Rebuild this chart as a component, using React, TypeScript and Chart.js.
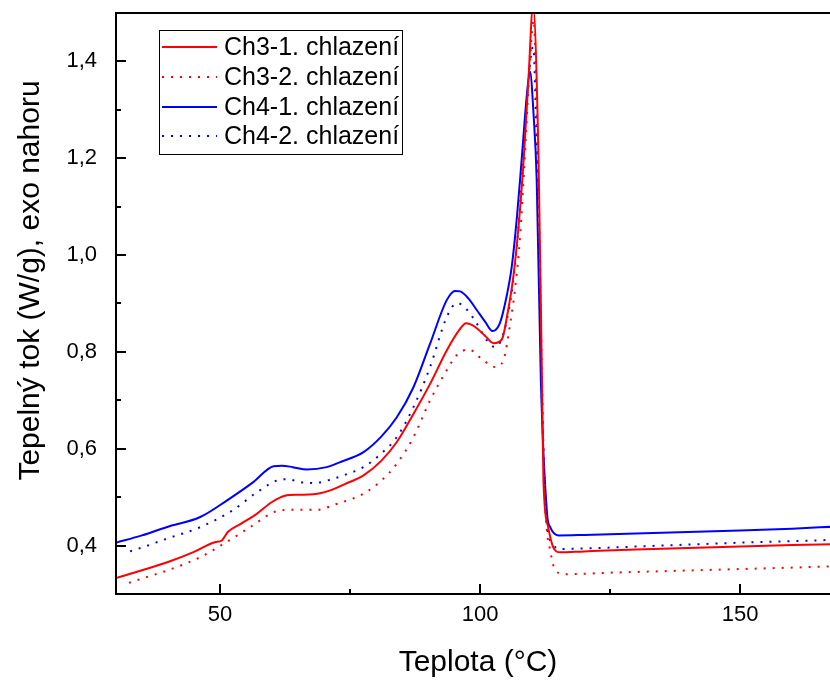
import React, { useEffect, useRef } from "react";
import { Chart, registerables } from "chart.js";

Chart.register(...registerables);

// ---- Data ----
const ch31T = [30, 35, 40, 45, 49, 50.3, 50.8, 51.5, 54, 57, 60, 62.5, 65, 68, 71.2, 74, 77.6, 81, 84, 87.2, 90.4, 93.6, 96.2, 97.3, 99, 101, 102.6, 104.2, 105.4, 106.4, 107.4, 108.3, 109.3, 110.2, 111.25, 111.9, 112.2, 113.1, 114.1, 115.4, 120, 130, 140, 150, 160, 168];
const ch31Y = [0.333, 0.349, 0.366, 0.387, 0.407, 0.41, 0.417, 0.428, 0.445, 0.465, 0.49, 0.503, 0.505, 0.506, 0.514, 0.527, 0.545, 0.575, 0.614, 0.672, 0.734, 0.803, 0.848, 0.859, 0.852, 0.833, 0.818, 0.826, 0.886, 0.955, 1.058, 1.182, 1.36, 1.515, 1.2, 0.75, 0.534, 0.438, 0.396, 0.386, 0.388, 0.392, 0.395, 0.398, 0.401, 0.403];

const ch32T = [32.5, 35, 39.7, 46.2, 50.6, 55.8, 60.9, 64.1, 68.6, 72.4, 77.6, 81, 84, 87.2, 90.4, 93.6, 95.5, 97.8, 100.6, 102.9, 104.5, 105.8, 106.7, 107.7, 108.5, 109.5, 110.3, 111.2, 111.9, 112.4, 112.9, 113.5, 114.1, 115.2, 117, 125, 135, 145, 155, 168];
const ch32Y = [0.323, 0.332, 0.348, 0.376, 0.403, 0.438, 0.471, 0.474, 0.474, 0.486, 0.507, 0.534, 0.569, 0.624, 0.7, 0.762, 0.793, 0.805, 0.783, 0.769, 0.783, 0.859, 0.927, 1.038, 1.182, 1.38, 1.485, 1.15, 0.75, 0.52, 0.428, 0.39, 0.359, 0.343, 0.341, 0.344, 0.347, 0.35, 0.353, 0.357];

const ch41T = [30, 35, 39.7, 46.2, 51.3, 56.4, 60.3, 61.9, 64, 66.7, 70.5, 73, 77.6, 81, 84, 87.2, 90.4, 93.6, 95.2, 96.2, 97.8, 99.4, 101, 102.4, 103.8, 105.1, 106.1, 107.1, 108, 109, 109.6, 110.3, 110.9, 111.7, 112.9, 113.5, 115.1, 120, 130, 140, 150, 160, 168];
const ch41Y = [0.406, 0.421, 0.438, 0.459, 0.493, 0.531, 0.564, 0.565, 0.562, 0.557, 0.562, 0.572, 0.593, 0.625, 0.665, 0.727, 0.817, 0.907, 0.926, 0.925, 0.91, 0.886, 0.862, 0.843, 0.859, 0.914, 0.976, 1.079, 1.196, 1.33, 1.379, 1.29, 1.155, 0.741, 0.465, 0.438, 0.421, 0.422, 0.425, 0.428, 0.431, 0.435, 0.439];

const ch42T = [32.7, 35, 39.7, 46.2, 52.6, 57.1, 61.5, 63, 65.4, 67.9, 71.8, 74, 77.6, 81, 84, 87.2, 90.4, 93.6, 95.6, 97.5, 99, 101.6, 102.9, 104.2, 105.4, 106.4, 107.4, 108.2, 109.3, 110.2, 111.1, 111.8, 112.7, 113.1, 113.8, 115.1, 120, 130, 140, 150, 160, 168];
const ch42Y = [0.388, 0.396, 0.414, 0.438, 0.474, 0.51, 0.536, 0.537, 0.531, 0.529, 0.538, 0.546, 0.562, 0.59, 0.624, 0.686, 0.769, 0.872, 0.901, 0.887, 0.865, 0.82, 0.81, 0.828, 0.879, 0.948, 1.058, 1.182, 1.36, 1.43, 1.13, 0.74, 0.462, 0.424, 0.407, 0.393, 0.394, 0.398, 0.402, 0.406, 0.409, 0.412];

const seriesLabels = ["Ch3-1. chlazení", "Ch3-2. chlazení", "Ch4-1. chlazení", "Ch4-2. chlazení"];

const xMajorTicks = [50, 100, 150];
const xMinorTicks = [75, 125];
const yMajorTicks = [0.4, 0.6, 0.8, 1.0, 1.2, 1.4];
const yMinorTicks = [0.5, 0.7, 0.9, 1.1, 1.3];

const xTitle = "Teplota (°C)";
const yTitle = "Tepelný tok (W/g), exo nahoru";

const FONT = "'Liberation Sans', Arial, sans-serif";
const RED = "#ff0000";
const BLUE = "#0000ff";
const DOT = [2, 7];

const toPoints = (t: number[], y: number[]) => t.map((x, i) => ({ x, y: y[i] }));

const decorPlugin = {
  id: "decor",
  afterDraw(chart: any) {
    const { ctx, chartArea: ca, scales } = chart;
    const xs = scales.x;
    const ys = scales.y;
    ctx.save();
    ctx.strokeStyle = "#000";
    ctx.lineWidth = 2;
    ctx.setLineDash([]);
    // axis lines
    ctx.beginPath();
    ctx.moveTo(ca.left, ca.top);
    ctx.lineTo(ca.right, ca.top);
    ctx.moveTo(ca.left, ca.top - 1);
    ctx.lineTo(ca.left, ca.bottom + 1);
    ctx.moveTo(ca.left - 1, ca.bottom);
    ctx.lineTo(ca.right, ca.bottom);
    ctx.stroke();
    // inward ticks
    const tickX = (v: number, len: number) => {
      const px = Math.round(xs.getPixelForValue(v));
      ctx.beginPath();
      ctx.moveTo(px, ca.bottom);
      ctx.lineTo(px, ca.bottom - len);
      ctx.stroke();
    };
    const tickY = (v: number, len: number) => {
      const py = Math.round(ys.getPixelForValue(v));
      ctx.beginPath();
      ctx.moveTo(ca.left, py);
      ctx.lineTo(ca.left + len, py);
      ctx.stroke();
    };
    xMajorTicks.forEach((v) => tickX(v, 10));
    xMinorTicks.forEach((v) => tickX(v, 5));
    yMajorTicks.forEach((v) => tickY(v, 10));
    yMinorTicks.forEach((v) => tickY(v, 5));

    // legend
    const lx = ca.left + 43;
    const ly = ca.top + 17;
    const lw = 243;
    const lh = 124;
    ctx.fillStyle = "#fff";
    ctx.fillRect(lx, ly, lw, lh);
    ctx.lineWidth = 1;
    ctx.strokeStyle = "#000";
    ctx.strokeRect(lx + 0.5, ly + 0.5, lw, lh);
    ctx.font = `25px ${FONT}`;
    ctx.textBaseline = "middle";
    ctx.textAlign = "left";
    chart.data.datasets.forEach((ds: any, i: number) => {
      const ry = Math.round(ly + 17 + i * 29.8);
      ctx.save();
      ctx.strokeStyle = ds.borderColor;
      ctx.lineWidth = ds.borderWidth;
      ctx.setLineDash(ds.borderDash || []);
      ctx.beginPath();
      ctx.moveTo(lx + 3, ry);
      ctx.lineTo(lx + 58, ry);
      ctx.stroke();
      ctx.restore();
      ctx.fillStyle = "#000";
      ctx.fillText(ds.label, lx + 65, ry + 1);
    });

    // axis titles
    ctx.fillStyle = "#000";
    ctx.font = `30px ${FONT}`;
    ctx.textAlign = "center";
    ctx.textBaseline = "alphabetic";
    ctx.fillText(xTitle, (ca.left + ca.right) / 2 + 5, 671);
    ctx.save();
    ctx.translate(39, (ca.top + ca.bottom) / 2 - 23);
    ctx.rotate(-Math.PI / 2);
    ctx.fillText(yTitle, 0, 0);
    ctx.restore();
    ctx.restore();
  },
};

export default function App() {
  const canvasRef = useRef<HTMLCanvasElement | null>(null);

  useEffect(() => {
    const canvas = canvasRef.current;
    if (!canvas) return;
    const mk = (label: string, t: number[], y: number[], color: string, dash: number[]) => ({
      label,
      data: toPoints(t, y),
      borderColor: color,
      backgroundColor: color,
      borderWidth: 2,
      borderDash: dash,
      pointRadius: 0,
      fill: false,
      cubicInterpolationMode: "monotone" as const,
    });
    const chart = new Chart(canvas, {
      type: "line",
      data: {
        datasets: [
          mk(seriesLabels[0], ch31T, ch31Y, RED, []),
          mk(seriesLabels[1], ch32T, ch32Y, RED, DOT),
          mk(seriesLabels[2], ch41T, ch41Y, BLUE, []),
          mk(seriesLabels[3], ch42T, ch42Y, BLUE, DOT),
        ],
      },
      options: {
        animation: false,
        responsive: false,
        devicePixelRatio: 1,
        layout: { padding: { top: 13, right: 0, left: 0, bottom: 0 } },
        plugins: { legend: { display: false }, tooltip: { enabled: false } },
        scales: {
          x: {
            type: "linear",
            min: 30,
            max: 167.3,
            grid: { display: false, drawTicks: false },
            border: { display: false },
            ticks: {
              color: "#000",
              font: { family: FONT, size: 22 },
              padding: 8,
              maxRotation: 0,
              autoSkip: false,
            },
            afterBuildTicks: (s: any) => {
              s.ticks = xMajorTicks.map((v) => ({ value: v }));
            },
            afterFit: (s: any) => {
              s.height = 86;
              s.paddingLeft = 0;
              s.paddingRight = 0;
            },
          },
          y: {
            type: "linear",
            min: 0.3,
            max: 1.5,
            grid: { display: false, drawTicks: false },
            border: { display: false },
            ticks: {
              color: "#000",
              font: { family: FONT, size: 22 },
              padding: 19,
              autoSkip: false,
              callback: (v: any) => Number(v).toFixed(1).replace(".", ","),
            },
            afterBuildTicks: (s: any) => {
              s.ticks = yMajorTicks.map((v) => ({ value: v }));
            },
            afterFit: (s: any) => {
              s.width = 116;
              s.paddingTop = 0;
              s.paddingBottom = 0;
            },
          },
        },
      },
      plugins: [decorPlugin],
    });
    return () => chart.destroy();
  }, []);

  return (
    <div style={{ position: "absolute", left: 0, top: 0, width: 830, height: 680, background: "#fff" }}>
      <canvas ref={canvasRef} width={830} height={680} />
    </div>
  );
}
